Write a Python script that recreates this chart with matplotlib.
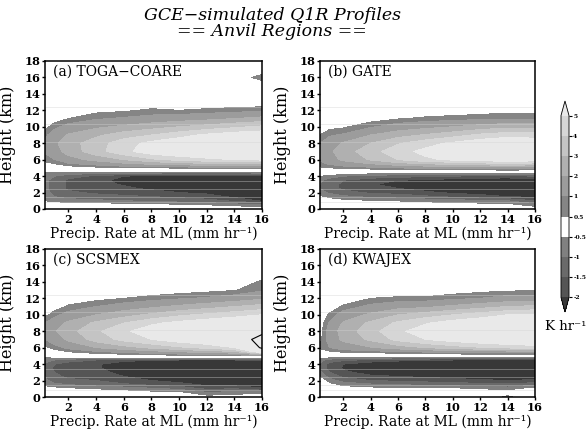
import matplotlib
matplotlib.use("Agg")
import matplotlib.pyplot as plt
import numpy as np

# ---------------- data ----------------
heights = [0, 0.5, 1, 1.5, 2, 2.5, 3, 3.5, 4, 4.5, 5, 5.5, 6, 7, 8, 9,
           10, 11, 12, 13, 14, 15, 16, 17, 18]
precip = [0.3, 1, 2, 4, 6, 8, 10, 12, 14, 16]
levels = [-2, -1.5, -1, -0.5, 0.5, 1, 2, 3, 4, 5]
level_labels = ["-2", "-1.5", "-1", "-0.5", "0.5", "1", "2", "3", "4", "5"]
panel_titles = ["(a) TOGA\u2212COARE", "(b) GATE", "(c) SCSMEX", "(d) KWAJEX"]

# Q1R (K/hr) profiles: one list per precip column, values at `heights`
toga_cols = [
    [0, -0.2, -0.6, -0.8, -0.9, -0.9, -0.9, -0.9, -0.8, -0.55, -0.1, 0.3, 0.7, 1.1, 1.2, 0.8, 0.3, 0.1, 0, 0, 0, 0, 0, 0, 0],
    [0, -0.3, -0.7, -1.0, -1.1, -1.2, -1.2, -1.2, -1.0, -0.6, 0, 0.5, 1.0, 1.6, 1.8, 1.5, 0.8, 0.2, 0, 0, 0, 0, 0, 0, 0],
    [0, -0.3, -0.8, -1.2, -1.4, -1.6, -1.6, -1.6, -1.3, -0.6, 0.1, 0.9, 1.6, 2.4, 2.6, 2.1, 1.3, 0.5, 0.1, 0, 0, 0, 0, 0, 0],
    [0, -0.35, -0.9, -1.3, -1.6, -1.75, -1.85, -1.85, -1.6, -0.6, 0.3, 1.3, 2.3, 3.6, 3.5, 2.8, 1.8, 0.9, 0.3, 0, 0, 0, 0, 0, 0],
    [0, -0.4, -1.0, -1.4, -1.7, -1.9, -2.05, -2.15, -2.0, -0.6, 0.45, 1.8, 3.0, 4.7, 4.6, 3.5, 2.2, 1.1, 0.4, 0, 0, 0, 0, 0, 0],
    [0, -0.45, -1.1, -1.5, -1.8, -2.1, -2.3, -2.4, -2.2, -0.6, 0.5, 2.2, 3.8, 5.6, 5.3, 4.0, 2.6, 1.3, 0.6, 0.1, 0, 0, 0, 0, 0],
    [-0.1, -0.55, -1.2, -1.6, -2.0, -2.2, -2.4, -2.5, -2.3, -0.6, 0.55, 2.5, 4.3, 6.0, 5.8, 4.6, 3.0, 1.5, 0.5, 0.1, 0, 0, 0, 0, 0],
    [-0.15, -0.6, -1.3, -1.8, -2.1, -2.3, -2.5, -2.5, -2.3, -0.6, 0.6, 2.8, 4.7, 6.3, 6.2, 5.2, 3.4, 1.7, 0.6, 0.1, 0, 0, 0, 0, 0],
    [-0.2, -0.8, -1.6, -2.1, -2.3, -2.4, -2.5, -2.5, -2.3, -0.6, 0.6, 3.0, 5.0, 6.5, 6.5, 5.6, 3.8, 2.0, 0.7, 0.1, 0, 0, 0, 0, 0],
    [-0.1, -1.0, -2.1, -2.4, -2.5, -2.5, -2.5, -2.4, -2.2, -0.6, 0.6, 3.0, 5.2, 6.6, 6.6, 5.8, 4.2, 2.3, 0.8, 0.1, 0, 0, 0.8, 0, 0],
]
gate_cols = [
    [0, 0, -0.2, -0.5, -0.8, -1.0, -1.0, -0.9, -0.6, -0.1, 0.4, 0.8, 1.1, 1.2, 1.0, 0.5, 0.1, 0, 0, 0, 0, 0, 0, 0, 0],
    [0, -0.1, -0.3, -0.7, -1.1, -1.3, -1.3, -1.2, -0.8, -0.1, 0.5, 1.1, 1.6, 1.8, 1.5, 0.9, 0.3, 0, 0, 0, 0, 0, 0, 0, 0],
    [0, -0.15, -0.45, -0.9, -1.3, -1.6, -1.6, -1.5, -1.0, -0.2, 0.6, 1.5, 2.2, 2.5, 2.1, 1.1, 0.4, 0.1, 0, 0, 0, 0, 0, 0, 0],
    [0, -0.2, -0.55, -1.1, -1.6, -1.9, -1.95, -1.8, -1.2, -0.3, 0.8, 2.0, 3.1, 3.6, 3.0, 2.0, 0.9, 0.2, 0, 0, 0, 0, 0, 0, 0],
    [0, -0.25, -0.6, -1.2, -1.7, -2.0, -2.2, -2.0, -1.3, -0.3, 1.0, 2.6, 4.0, 4.6, 3.9, 2.6, 1.4, 0.45, 0.1, 0, 0, 0, 0, 0, 0],
    [-0.05, -0.3, -0.7, -1.4, -1.9, -2.2, -2.3, -2.1, -1.4, -0.4, 1.2, 3.0, 4.8, 5.3, 4.6, 3.1, 1.7, 0.6, 0.1, 0, 0, 0, 0, 0, 0],
    [-0.1, -0.35, -0.8, -1.6, -2.1, -2.4, -2.5, -2.3, -1.5, -0.4, 1.3, 3.3, 5.2, 5.8, 5.2, 3.6, 2.0, 0.7, 0.15, 0, 0, 0, 0, 0, 0],
    [-0.1, -0.4, -0.9, -1.8, -2.2, -2.5, -2.6, -2.4, -1.6, -0.4, 1.4, 3.6, 5.5, 6.2, 5.7, 4.2, 2.4, 0.8, 0.2, 0, 0, 0, 0, 0, 0],
    [-0.15, -0.45, -1.0, -2.0, -2.4, -2.6, -2.7, -2.5, -1.6, -0.4, 1.5, 3.8, 5.8, 6.5, 6.0, 4.6, 2.7, 0.9, 0.3, 0, 0, 0, 0, 0, 0],
    [-0.3, -0.8, -1.5, -2.1, -2.4, -2.5, -2.5, -2.3, -1.5, -0.4, 1.4, 3.6, 5.6, 6.3, 5.8, 4.5, 2.6, 0.9, 0.2, 0, 0, 0, 0, 0, 0],
]
scsmex_cols = [
    [0, 0, -0.3, -0.7, -0.9, -1.0, -1.1, -1.2, -1.1, -0.8, -0.4, 0, 0.35, 1.0, 1.3, 1.0, 0.3, 0, 0, 0, 0, 0, 0, 0, 0],
    [0, -0.1, -0.4, -0.9, -1.2, -1.4, -1.5, -1.6, -1.5, -1.0, -0.3, 0.2, 0.7, 1.5, 1.9, 1.5, 0.8, 0.2, 0, 0, 0, 0, 0, 0, 0],
    [0, -0.15, -0.5, -1.0, -1.4, -1.6, -1.8, -1.9, -1.8, -1.2, -0.2, 0.5, 1.2, 2.2, 2.6, 2.2, 1.3, 0.6, 0.1, 0, 0, 0, 0, 0, 0],
    [0, -0.2, -0.6, -1.2, -1.5, -1.7, -1.8, -1.9, -1.9, -1.5, -0.1, 0.9, 2.0, 3.4, 3.8, 3.2, 2.0, 1.0, 0.3, 0, 0, 0, 0, 0, 0],
    [0, -0.3, -0.7, -1.4, -1.8, -2.0, -2.2, -2.4, -2.4, -1.8, 0, 1.2, 2.6, 4.3, 4.8, 4.0, 2.6, 1.4, 0.5, 0.1, 0, 0, 0, 0, 0],
    [-0.05, -0.4, -0.9, -1.6, -2.0, -2.3, -2.6, -2.8, -2.8, -1.9, 0.1, 1.6, 3.2, 5.0, 5.6, 4.8, 3.2, 1.8, 0.7, 0.1, 0, 0, 0, 0, 0],
    [-0.1, -0.45, -1.1, -1.8, -2.2, -2.5, -2.7, -2.9, -2.9, -2.0, 0.2, 2.0, 3.8, 5.6, 6.0, 5.3, 3.8, 2.2, 0.9, 0.2, 0, 0, 0, 0, 0],
    [-0.4, -0.9, -1.6, -2.1, -2.4, -2.6, -2.8, -3.0, -3.0, -2.0, 0.3, 2.4, 4.3, 6.0, 6.3, 5.7, 4.2, 2.6, 1.1, 0.3, 0, 0, 0, 0, 0],
    [-0.3, -0.8, -1.5, -2.2, -2.5, -2.7, -2.9, -3.0, -3.0, -2.0, 0.4, 2.8, 5.0, 6.5, 6.6, 6.0, 4.6, 3.0, 1.4, 0.45, 0.1, 0, 0, 0, 0],
    [-0.1, -0.7, -1.9, -2.3, -2.6, -2.8, -2.9, -3.0, -2.9, -1.9, 0.4, 6.0, 7.2, 7.3, 6.8, 6.2, 5.0, 3.4, 1.8, 0.9, 0.6, 0.1, 0, 0, 0],
]
kwajex_cols = [
    [0, 0, 0, 0, -0.2, -0.6, -0.9, -1.1, -1.1, -0.8, -0.2, 0.2, 0.6, 0.3, 0.2, 0.1, 0, 0, 0, 0, 0, 0, 0, 0, 0],
    [0, 0, -0.1, -0.4, -0.8, -1.2, -1.5, -1.7, -1.7, -1.2, -0.3, 0.4, 1.0, 1.4, 1.4, 1.1, 0.6, 0.1, 0, 0, 0, 0, 0, 0, 0],
    [0, -0.1, -0.3, -0.7, -1.2, -1.6, -1.9, -2.05, -2.0, -1.4, -0.3, 0.6, 1.4, 2.2, 2.4, 2.1, 1.4, 0.6, 0.1, 0, 0, 0, 0, 0, 0],
    [0, -0.1, -0.4, -0.9, -1.5, -1.9, -2.2, -2.4, -2.4, -1.6, -0.2, 0.7, 1.9, 3.2, 3.6, 3.2, 2.2, 1.2, 0.5, 0, 0, 0, 0, 0, 0],
    [0, -0.1, -0.45, -1.0, -1.6, -2.0, -2.4, -2.6, -2.6, -1.8, -0.2, 0.9, 2.5, 4.3, 4.8, 4.2, 3.0, 1.6, 0.6, 0.1, 0, 0, 0, 0, 0],
    [0, -0.1, -0.5, -1.1, -1.7, -2.1, -2.5, -2.7, -2.7, -1.9, -0.2, 1.1, 3.0, 5.0, 5.5, 4.9, 3.5, 1.8, 0.6, 0.1, 0, 0, 0, 0, 0],
    [0, -0.1, -0.5, -1.2, -1.8, -2.2, -2.6, -2.8, -2.8, -2.0, -0.2, 1.3, 3.5, 5.5, 6.0, 5.5, 4.0, 2.2, 0.8, 0.2, 0, 0, 0, 0, 0],
    [0, -0.15, -0.6, -1.3, -1.9, -2.3, -2.7, -2.9, -2.9, -2.1, -0.2, 1.4, 3.9, 5.9, 6.3, 5.8, 4.5, 2.6, 1.0, 0.3, 0, 0, 0, 0, 0],
    [-0.8, -0.3, -0.7, -1.4, -2.0, -2.4, -2.7, -2.9, -2.9, -2.1, -0.2, 1.5, 4.2, 6.2, 6.5, 6.1, 5.0, 3.0, 1.3, 0.4, 0, 0, 0, 0, 0],
    [0, -0.1, -0.4, -1.1, -1.9, -2.3, -2.6, -2.8, -2.8, -2.1, -0.2, 1.5, 4.5, 6.3, 6.6, 6.3, 5.2, 3.2, 1.4, 0.4, 0, 0, 0, 0, 0],
]

# ---------------- style ----------------
fill_colors = ["#383838", "#555555", "#6a6a6a", "#808080", "#ffffff",
               "#858585", "#9c9c9c", "#b0b0b0", "#c4c4c4", "#d6d6d6", "#e9e9e9"]
artifact_lines = [12.4, 10.3, 8.2, 3.4, 2.4, 1.4, 0.8]

plt.rcParams["font.family"] = ["DejaVu Serif"]
plt.rcParams["mathtext.fontset"] = "dejavuserif"
fig = plt.figure(figsize=(5.86, 4.30), dpi=100)

W, H = 586.0, 430.0
def rect(l, t, r, b):
    return [l / W, 1 - b / H, (r - l) / W, (b - t) / H]

boxes = [rect(45, 61, 262, 209), rect(320, 61, 535, 209),
         rect(45, 249, 262, 397), rect(320, 249, 535, 397)]
all_cols = [toga_cols, gate_cols, scsmex_cols, kwajex_cols]

X, Zg = np.meshgrid(precip, heights)
cs = None
for i, (box, cols, title) in enumerate(zip(boxes, all_cols, panel_titles)):
    ax = fig.add_axes(box)
    data = np.array(cols, dtype=float).T
    cs = ax.contourf(X, Zg, data, levels=levels, colors=fill_colors, extend="both")
    ax.contour(X, Zg, data, levels=[7], colors="k", linewidths=0.8)
    for h in artifact_lines:
        ax.axhline(h, color="#d2d2d2", lw=0.5, alpha=0.55)
    ax.set_xlim(0.3, 16)
    ax.set_ylim(0, 18)
    ax.set_xticks([2, 4, 6, 8, 10, 12, 14, 16])
    ax.set_yticks(range(0, 19, 2))
    ax.tick_params(direction="out", length=2.5, width=1, pad=0.8, labelsize=8.2)
    for lab in ax.get_xticklabels() + ax.get_yticklabels():
        lab.set_fontweight("bold")
    for sp in ax.spines.values():
        sp.set_linewidth(1.1)
    ax.set_xlabel("Precip. Rate at ML (mm hr\u207b\u00b9)", fontsize=10)
    ax.xaxis.label.set_va("center")
    ax.xaxis.set_label_coords(0.5, -0.165)
    ax.set_ylabel("Height (km)", fontsize=11.5)
    ax.yaxis.set_label_coords(-0.135, 0.5)
    ax.text(0.035, 0.925, title, transform=ax.transAxes, fontsize=10,
            ha="left", va="center")

# colorbar
cax = fig.add_axes(rect(561, 101, 569, 312))
cb = fig.colorbar(cs, cax=cax, ticks=levels, extendfrac=0.08)
cb.ax.set_yticklabels(level_labels)
cb.ax.tick_params(labelsize=4.3, length=2.5, width=0.8, pad=0.6)
for lab in cb.ax.get_yticklabels():
    lab.set_fontweight("bold")
cb.outline.set_linewidth(0.6)
fig.text(566 / W, 1 - 326 / H, "K hr\u207b\u00b9", fontsize=9.5, ha="center", va="center")

fig.text(272 / W, 1 - 15 / H, "GCE\u2212simulated Q1R Profiles", fontsize=12.5,
         style="italic", ha="center", va="center")
fig.text(272 / W, 1 - 32 / H, "== Anvil Regions ==", fontsize=12.5,
         style="italic", ha="center", va="center")

fig.savefig("out.png", dpi=100)
